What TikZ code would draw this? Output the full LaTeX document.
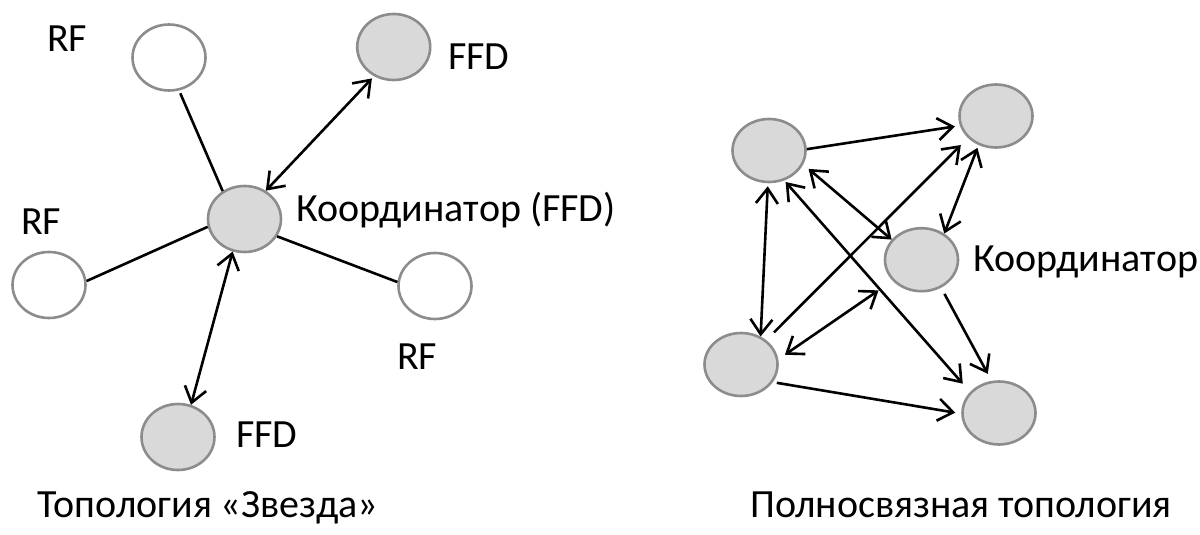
\documentclass[tikz,border=0pt]{standalone}
\usepackage{fontspec}
\setmainfont{Carlito}
\usetikzlibrary{shapes.geometric,arrows.meta}
\definecolor{ringgray}{HTML}{8C8C8C}
\definecolor{ndfill}{HTML}{D9D9D9}
\begin{document}
\begin{tikzpicture}[x=1pt,y=-1pt,
  nd/.style={ellipse,draw=ringgray,line width=2.6pt,minimum width=73pt,minimum height=63pt,inner sep=0pt},
  snd/.style={nd,minimum height=66pt},
  rf/.style={snd,fill=white},
  sffd/.style={snd,fill=ndfill},
  ffd/.style={nd,fill=ndfill},
  lbl/.style={anchor=base west,inner sep=0pt,font=\fontsize{40}{46}\selectfont},
  link/.style={line width=2.6pt},
  arr/.style={link,-{Straight Barb[length=15pt,width=22pt]}},
  darr/.style={link,{Straight Barb[length=15pt,width=22pt]}-{Straight Barb[length=15pt,width=22pt]}},
]
\useasboundingbox[fill=white] (0,0) rectangle (1200,535);

% Star topology
\node[rf] (rft) at (169,57.5) {};
\node[sffd] (ffdt) at (393.7,47) {};
\node[sffd] (co) at (244.5,219) {};
\node[rf] (rfl) at (49,285) {};
\node[rf] (rfr) at (435,286) {};
\node[sffd] (ffdb) at (178,437) {};

\node[lbl] (lrft) at (47,52) {RF};
\node[lbl] (lffdt) at (448,70) {FFD};
\node[lbl] (lco) at (296,221) {Координатор (FFD)};
\node[lbl] (lrfl) at (21,234) {RF};
\node[lbl] (lrfr) at (397,369) {RF};
\node[lbl] (lffdb) at (236,447) {FFD};

\draw[link, shorten <=3pt] (rft.287) -- (co.128);
\draw[darr, shorten >=3pt] (co.53) -- (ffdt.236);
\draw[link] (co.192) -- (rfl.6);
\draw[link] (co.332) -- (rfr.174);
\draw[darr] (co.250) -- (ffdb.68);

\node[lbl, anchor=base] (cap1) at (208,517) {Топология «Звезда»};

% Full mesh topology
\node[ffd] (ma) at (769,150.5) {};
\node[ffd] (mb) at (996,116) {};
\node[ffd] (mc) at (921.5,259.7) {};
\node[ffd] (md) at (741,364.5) {};
\node[ffd] (me) at (999,413) {};
\node[lbl] (lmc) at (973,271) {Координатор};

\draw[arr, shorten >=5pt] (ma.2) -- (mb.195);
\draw[darr, shorten <=3pt] (ma.268) -- (md.55);
\draw[darr, shorten <=7pt] (ma.338) -- (mc.146);
\draw[darr, shorten <=2pt, shorten >=11pt] (ma.297) -- (me.144);
\draw[arr, shorten <=11pt, shorten >=10pt] (md.44) -- (mb.218);
\draw[darr, shorten <=3pt] (mb.239) -- (mc.49);
\draw[darr, shorten <=8pt, shorten >=17pt] (md.8) -- (mc.216);
\draw[arr, shorten <=7pt, shorten >=8pt] (mc.305) -- (me.103);
\draw[arr, shorten <=4pt, shorten >=6pt] (md.331) -- (me.181);

\node[lbl, anchor=base] (cap2) at (961,517) {Полносвязная топология};
\end{tikzpicture}
\end{document}
